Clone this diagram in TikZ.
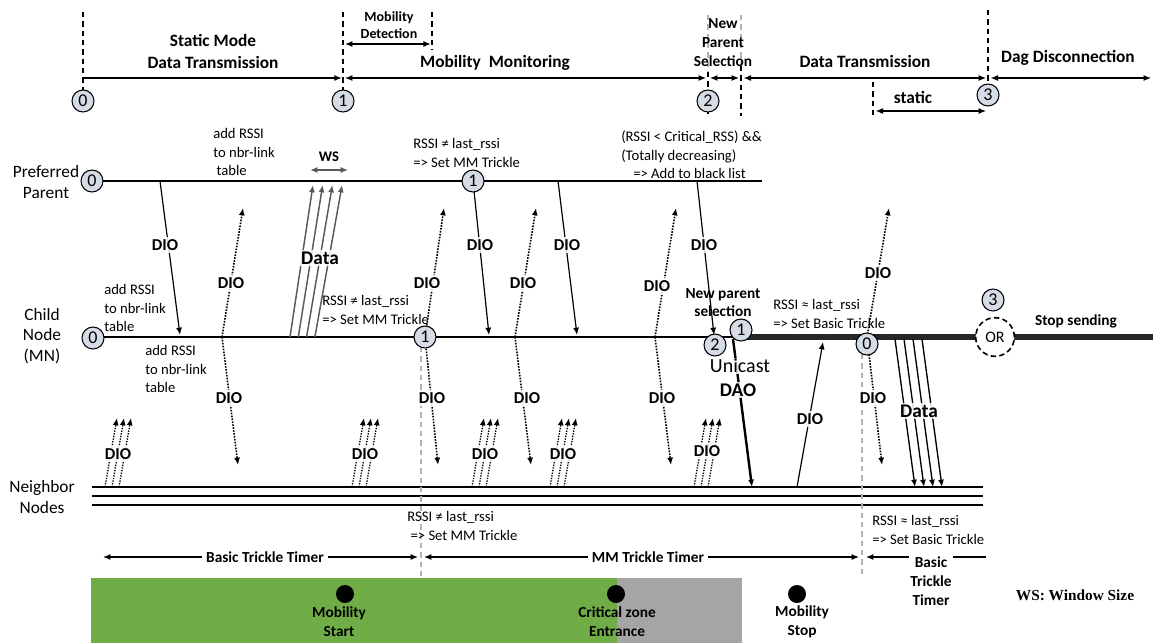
\documentclass[tikz,border=0pt]{standalone}
\usepackage{fontspec}
\setmainfont{Carlito}
\newfontfamily\wsfont{Liberation Serif}
\usetikzlibrary{arrows.meta}
\definecolor{cnum}{HTML}{D6DCE5}
\definecolor{cgreen}{HTML}{70AD47}
\definecolor{czone}{HTML}{A5A5A5}
\definecolor{cdata}{HTML}{595959}

\begin{document}
\begin{tikzpicture}[x=0.75pt,y=-0.75pt,>={Latex[length=5.5pt,width=4.5pt]},
  num/.style={circle,draw,fill=cnum,line width=0.8pt,inner sep=0pt,
              minimum size=16.5pt,font=\fontsize{13.5}{13.5}\selectfont},
  phase/.style={font=\bfseries\fontsize{13}{16.5}\selectfont,align=center},
  subhead/.style={font=\bfseries\fontsize{11.5}{14.25}\selectfont,align=center},
  role/.style={font=\fontsize{13}{15.5}\selectfont,align=center},
  note/.style={font=\fontsize{11}{14}\selectfont,align=left,anchor=west,
               inner sep=0pt},
  lab/.style={font=\bfseries\fontsize{12.5}{14}\selectfont,fill=white,
              fill opacity=0.85,text opacity=1,inner sep=1.5pt},
  datalbl/.style={lab,font=\bfseries\fontsize{14.5}{16}\selectfont},
  dot/.style={circle,fill,inner sep=0pt,minimum size=13.5pt},
  vline/.style={dash pattern=on 4pt off 3pt,line width=0.9pt},
  gline/.style={vline,black!30},
  dio/.style={densely dotted,line width=1.2pt},
  sent/.style={line width=0.9pt}]
\useasboundingbox (0,0) rectangle (1153,643);

% phases on top
\foreach \x/\a/\b in {83/12/112,343/12/112,873/82/118,988/10/90}
  \draw[vline] (\x,\a)--(\x,\b);
\draw[vline] (432,12)--(432,50);
\draw[gline] (708,15)--(708,72); \draw[vline] (708,72)--(708,114);
\draw[gline] (741,15)--(741,66); \draw[vline] (741,66)--(741,116);
\foreach \n/\x in {m0/83,m1/343,m2/708,m3/741,m4/988,m5/1151}
  \coordinate (\n) at (\x,78);
\coordinate (md0) at (343,44); \coordinate (md1) at (432,44);
\coordinate (st0) at (873,111); \coordinate (st1) at (988,111);
\draw[sent,->] (m0)--([xshift=-1pt]m1);
\draw[sent,<->] ([xshift=1.5pt]m1)--([xshift=-1.5pt]m2);
\draw[sent,<->] ([xshift=1.5pt]m2)--([xshift=-1.5pt]m3);
\draw[sent,<->] ([xshift=2pt]m3)--([xshift=-1.5pt]m4);
\draw[sent,<->] ([xshift=2pt]m4)--(m5);
\draw[sent,<->] ([xshift=1.5pt]md0)--([xshift=-1pt]md1);
\draw[sent,<->] ([xshift=2pt]st0)--([xshift=-1.5pt]st1);
\node[phase] (smd) at (213,51) {Static Mode\\Data Transmission};
\node[subhead,font=\bfseries\fontsize{10.5}{12.75}\selectfont] (mdt) at (389,25) {Mobility\\Detection};
\node[phase] (mmo) at (495,63) {Mobility\ \ Monitoring};
\node[subhead] (nps) at (723,43) {New\\Parent\\Selection};
\node[phase] (dtr) at (865,61) {Data Transmission};
\node[phase] (dag) at (1068,58) {Dag Disconnection};
\node[phase] (sta) at (913,97) {static};

% rows
\coordinate (pw) at (92,181); \coordinate (pe) at (762,181);
\coordinate (cw) at (93,337); \coordinate (ck) at (735,337);
\coordinate (cx) at (1153,337);
\draw[line width=1.3pt] (pw)--(pe);
\draw[line width=1.3pt] (cw)--(ck);
\draw[line width=3.8pt,black!85] (ck)--(cx);
\foreach \y in {487,496,505}
  \draw[line width=0.9pt] (92,\y)--(983,\y);
\draw[gline] (421,347)--(421,576);
\draw[gline] (862,354)--(862,576);
\node[role] (lpp) at (46,182) {Preferred\\Parent};
\node[role] (lcn) at (42,336) {Child\\Node\\(MN)};
\node[role] (lnb) at (42,497) {Neighbor\\Nodes};

% DIO from the parent
\foreach \i/\a/\b/\l in {1/160/180/165,2/473/489/480,3/558/577/567,4/697/714/704}{
  \coordinate (pd\i) at (\a,181); \coordinate (cd\i) at (\b,335);
  \draw[sent,->] (pd\i)--(cd\i);
  \node[lab] (pl\i) at (\l,245) {DIO};}

% DIO sent by the child, up and down
\foreach \i/\b/\u/\d/\ul/\uy/\dl in {1/222/243/238/231/283/229,2/425/444/438/427/283/432,
    3/515/536/531/523/283/527,4/655/676/671/657/286/662,5/867/889/882/878/273/873}{
  \coordinate (cb\i) at (\b,337);
  \coordinate (up\i) at (\u,208);
  \coordinate (dn\i) at (\d,465);
  \draw[dio,->] (cb\i)--(up\i);
  \draw[dio,->] (cb\i)--(dn\i);
  \node[lab] (ul\i) at (\ul,\uy) {DIO};
  \node[lab] (dl\i) at (\dl,398) {DIO};}

% DIO bursts from the neighbours
\foreach \g/\x/\ly in {1/105/454,2/352/454,3/472/454,4/550/454,5/694/451}{
  \foreach \k in {0,1,2}{
    \coordinate (nb\g\k) at (\x+7*\k,487);
    \coordinate (nt\g\k) at (\x+12+7*\k,418);
    \draw[dio,line width=1pt,->] (nb\g\k)--(nt\g\k);}
  \node[lab] (nl\g) at (\x+13,\ly) {DIO};}

% data to the parent, window size
\foreach \k in {0,...,3}{
  \coordinate (ub\k) at (290+8.3*\k,337);
  \coordinate (ut\k) at (313+9.7*\k,185);
  \draw[line width=1.1pt,cdata,->] (ub\k)--(ut\k);}
\node[datalbl] (dup) at (320,258) {Data};
\coordinate (ws0) at (310,170); \coordinate (ws1) at (348,170);
\draw[line width=1.6pt,cdata,<->] (ws0)--(ws1);
\node[font=\bfseries\fontsize{11}{12}\selectfont] (wsl) at (329,157) {WS};

% new parent, DAO and data to the neighbours
\coordinate (dao0) at (733,339); \coordinate (dao1) at (752,487);
\draw[line width=1.8pt,->] (dao0)--(dao1);
\node[font=\fontsize{15}{16}\selectfont,fill=white,fill opacity=0.85,
      text opacity=1,inner sep=1pt] (uni) at (740,366) {Unicast};
\node[datalbl] (dao) at (738,390) {DAO};
\coordinate (nd0) at (797,487); \coordinate (nd1) at (823,342);
\draw[sent,->] (nd0)--(nd1);
\node[lab] (ndl) at (810,419) {DIO};
\foreach \k in {0,...,3}{
  \coordinate (db\k) at (895+9*\k,339);
  \coordinate (dt\k) at (915+9*\k,487);
  \draw[line width=1pt,->] (db\k)--(dt\k);}
\node[datalbl] (ddn) at (919,411) {Data};
\node[subhead,font=\bfseries\fontsize{11.5}{13.5}\selectfont] (npl) at (723,303) {New parent\\selection};
\node[subhead] (sto) at (1076,321) {Stop sending};
\node[circle,draw,line width=1.2pt,dash pattern=on 4pt off 2.5pt,fill=white,
      minimum size=29pt,inner sep=0pt,font=\fontsize{12}{12}\selectfont] (orc) at (995,337) {OR};

% notes
\node[note] (n1) at (213,152) {add RSSI\\to nbr-link\\\ table};
\node[note] (n2) at (104,308) {add RSSI\\to nbr-link\\table};
\node[note] (n3) at (145,369) {add RSSI\\to nbr-link\\table};
\node[note] (n4) at (322,310) {RSSI ≠ last\_rssi\\=> Set MM Trickle};
\node[note] (n5) at (413,153) {RSSI ≠ last\_rssi\\=> Set MM Trickle};
\node[note] (n6) at (621,155) {(RSSI < Critical\_RSS) \&\&\\(Totally decreasing)\\\hspace*{9pt}=> Add to black list};
\node[note] (n7) at (773,314) {RSSI ≈ last\_rssi\\=> Set Basic Trickle};
\node[note] (n8) at (407,526) {RSSI ≠ last\_rssi\\\ => Set MM Trickle};
\node[note] (n9) at (872,530) {RSSI ≈ last\_rssi\\=> Set Basic Trickle};

% trickle timers
\coordinate (bt0) at (103,557); \coordinate (bt1) at (418,557);
\coordinate (mt0) at (424,557); \coordinate (mt1) at (859,557);
\coordinate (rt0) at (866,557); \coordinate (rt1) at (986,557);
\draw[sent,<->] (bt0)--(bt1);
\draw[sent,<->] (mt0)--(mt1);
\draw[sent,<-] (rt0)--(rt1);
\node[subhead,fill=white] (btt) at (265,557) {Basic Trickle Timer};
\node[subhead,fill=white] (mtt) at (648,557) {MM Trickle Timer};
\node[subhead,fill=white,inner sep=1pt] (rtt) at (931,581) {Basic\\Trickle\\Timer};

% mobility zones
\fill[cgreen] (91,578) rectangle (617,643);
\fill[czone] (617,578) rectangle (742,643);
\node[dot] (dms) at (345,594) {};
\node[dot] (dcz) at (616,594) {};
\node[dot] (dme) at (797,594) {};
\node[subhead] (tms) at (339,622) {Mobility\\Start};
\node[subhead] (tcz) at (617,622) {Critical zone\\Entrance};
\node[subhead] (tme) at (802,622) {Mobility\\Stop};
\node[font=\wsfont\bfseries\fontsize{11.5}{13}\selectfont] (wsn) at (1075,595) {WS: Window Size};

% state numbers
\node[num] (t0) at (83,101) {0};
\node[num] (t1) at (343,101) {1};
\node[num] (t2) at (708,101) {2};
\node[num] (t3) at (988,95) {3};
\node[num] (p0) at (92,181) {0};
\node[num] (p1) at (473,181) {1};
\node[num] (c0) at (93,338) {0};
\node[num] (c1) at (425,337) {1};
\node[num] (c2) at (715,345) {2};
\node[num] (c1b) at (741,330) {1};
\node[num] (c0b) at (867,344) {0};
\node[num] (c3) at (993,300) {3};
\end{tikzpicture}
\end{document}
